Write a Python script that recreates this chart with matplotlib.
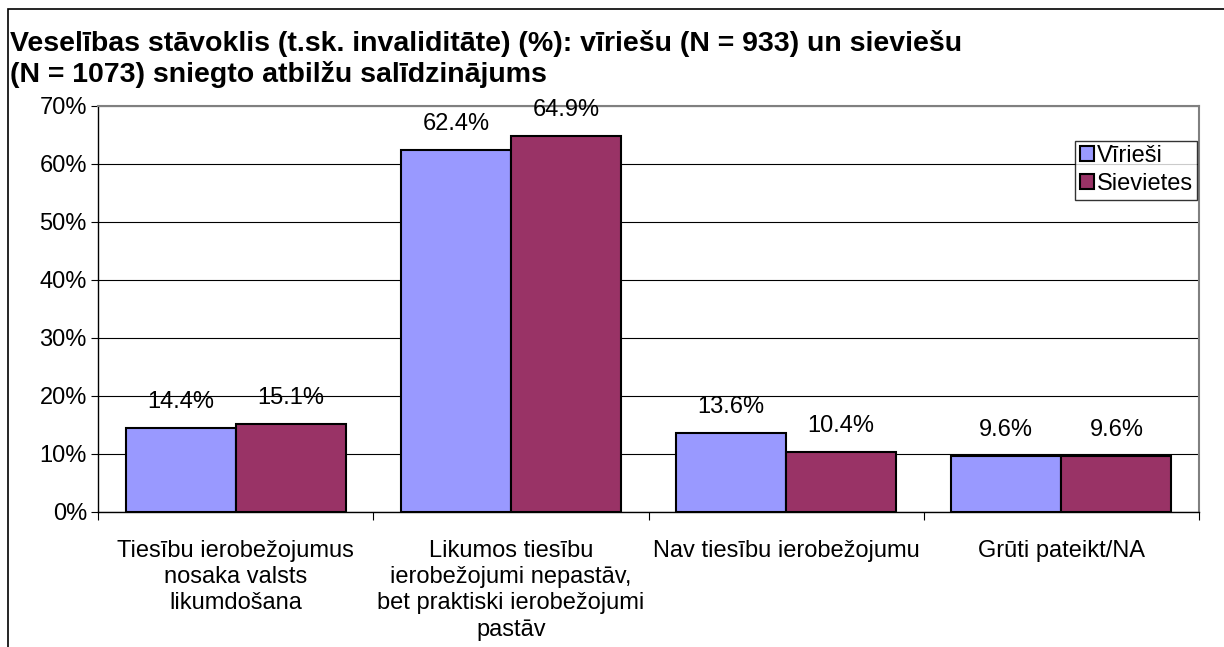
import matplotlib.pyplot as plt
from matplotlib.patches import Rectangle
import numpy as np

plt.rcParams['font.family'] = ['Liberation Sans', 'DejaVu Sans']

categories = ['Tiesību ierobežojumus\nnosaka valsts\nlikumdošana',
              'Likumos tiesību\nierobežojumi nepastāv,\nbet praktiski ierobežojumi\npastāv',
              'Nav tiesību ierobežojumu',
              'Grūti pateikt/NA']
viriesi = [14.4, 62.4, 13.6, 9.6]
sievietes = [15.1, 64.9, 10.4, 9.6]
series_names = ['Vīrieši', 'Sievietes']
yticks = [0, 10, 20, 30, 40, 50, 60, 70]

fs = 17

fig = plt.figure(figsize=(12.24, 6.47), dpi=100)
ax = fig.add_axes([98 / 1224, 1 - 512 / 647, 1101 / 1224, 406 / 647])

# outer chart frame (cut at right and bottom like the source)
fig.patches.append(Rectangle((8 / 1224, -0.1), 1.2, 1.1 - 9 / 647, transform=fig.transFigure,
                             fill=False, edgecolor='black', linewidth=1.2))

x = np.arange(len(categories))
w = 0.4
b1 = ax.bar(x - w / 2, viriesi, w, color='#9999FF', edgecolor='black', linewidth=1.5,
            label=series_names[0], zorder=3)
b2 = ax.bar(x + w / 2, sievietes, w, color='#993366', edgecolor='black', linewidth=1.5,
            label=series_names[1], zorder=3)

for bars, vals in [(b1, viriesi), (b2, sievietes)]:
    for rect, v in zip(bars, vals):
        ax.annotate(f'{v:.1f}%', (rect.get_x() + rect.get_width() / 2, v),
                    xytext=(0, 20), textcoords='offset pixels', ha='center', va='baseline',
                    fontsize=fs, annotation_clip=False)

ax.set_xlim(-0.5, 3.5)
ax.set_ylim(0, 70)
ax.set_yticks(yticks)
ax.set_yticklabels([f'{t}%' for t in yticks], fontsize=fs)
ax.yaxis.grid(True, color='black', linewidth=0.8, zorder=0)
ax.tick_params(axis='y', length=5, width=0.8, pad=3)

ax.set_xticks(x)
ax.set_xticklabels(categories, fontsize=fs, linespacing=1.25, va='top')
ax.set_xticks(np.arange(-0.5, 4, 1), minor=True)
ax.tick_params(axis='x', which='major', length=0, pad=20)
ax.tick_params(axis='x', which='minor', length=6, width=0.8)

for s in ['left', 'bottom']:
    ax.spines[s].set_color('black')
    ax.spines[s].set_linewidth(1)
for s in ['top', 'right']:
    ax.spines[s].set_color('#808080')
    ax.spines[s].set_linewidth(1.5)

leg = ax.legend(loc='upper right', bbox_to_anchor=(0.9985, 0.915), fontsize=fs,
                frameon=True, fancybox=False, edgecolor='black', handlelength=0.6,
                handleheight=0.6, handletextpad=0.1, borderpad=0.2, labelspacing=0.25,
                borderaxespad=0)
leg.get_frame().set_linewidth(1)

fig.text(10 / 1224, 1 - 30 / 647,
         'Veselības stāvoklis (t.sk. invaliditāte) (%): vīriešu (N = 933) un sieviešu\n'
         '(N = 1073) sniegto atbilžu salīdzinājums',
         fontsize=20.5, fontweight='bold', ha='left', va='top', linespacing=1.2)

fig.savefig('out.png', dpi=100)
